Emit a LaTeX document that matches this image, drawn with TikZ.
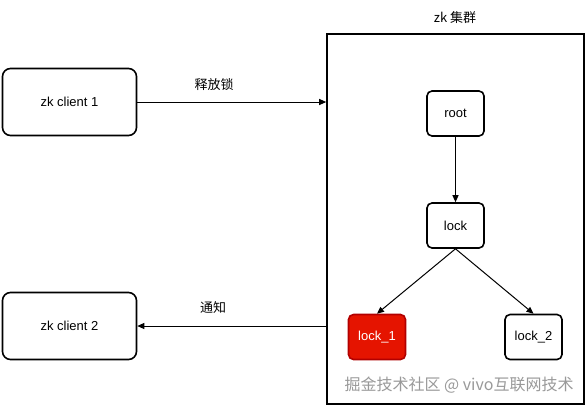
\documentclass[tikz,border=0pt]{standalone}
\usepackage{fontspec}
\setmainfont{Liberation Sans}
\newfontfamily\cjk{Noto Sans CJK SC}
\usetikzlibrary{arrows.meta}
\definecolor{lockred}{HTML}{E51400}
\definecolor{lockredborder}{HTML}{B20000}
\begin{document}
\begin{tikzpicture}[x=1pt,y=-1pt,
  client/.style={draw,line width=1.6pt,rounded corners=8pt,minimum width=134pt,minimum height=67pt,inner sep=0pt,font=\fontsize{13}{15}\selectfont},
  znode/.style={draw,line width=1.6pt,rounded corners=5pt,minimum width=57pt,minimum height=45pt,inner sep=0pt,font=\fontsize{13}{15}\selectfont},
  arr/.style={-{Triangle[length=7pt,width=6pt]},line width=1pt},
  lbl/.style={font=\cjk\fontsize{13}{15}\selectfont}]
\useasboundingbox (0,0) rectangle (585,405);
\fill[white] (0,0) rectangle (585,405);
% cluster box
\node[draw,line width=1.6pt,minimum width=257pt,minimum height=370pt,inner sep=0pt] (cluster) at (455.5,219) {};
\node[lbl] (clusterlbl) at (455,18) {zk 集群};
% clients
\node[client] (c1) at (69.5,102) {zk client 1};
\node[client] (c2) at (69.5,326) {zk client 2};
% zk nodes
\node[znode] (root) at (455.5,113.5) {root};
\node[znode] (lock) at (455.5,225.5) {lock};
\node[znode,fill=lockred,draw=lockredborder,text=white] (l1) at (377,337) {lock\_1};
\node[znode] (l2) at (533.5,337) {lock\_2};
% arrows
\draw[arr] (c1.east) -- (c1.east -| cluster.west);
\node[lbl] (rel) at (214,85) {释放锁};
\draw[arr] (c2.east -| cluster.west) -- (c2.east);
\node[lbl] (ntf) at (213,308) {通知};
\draw[arr] (root.south) -- (lock.north);
\draw[arr] (lock.south) -- (l1.north);
\draw[arr] (lock.south) -- (l2.north);
% watermark
\node[font=\cjk\fontsize{16}{18}\selectfont,text=black!40] (wm) at (459,385) {掘金技术社区 @ vivo互联网技术};
\end{tikzpicture}
\end{document}
